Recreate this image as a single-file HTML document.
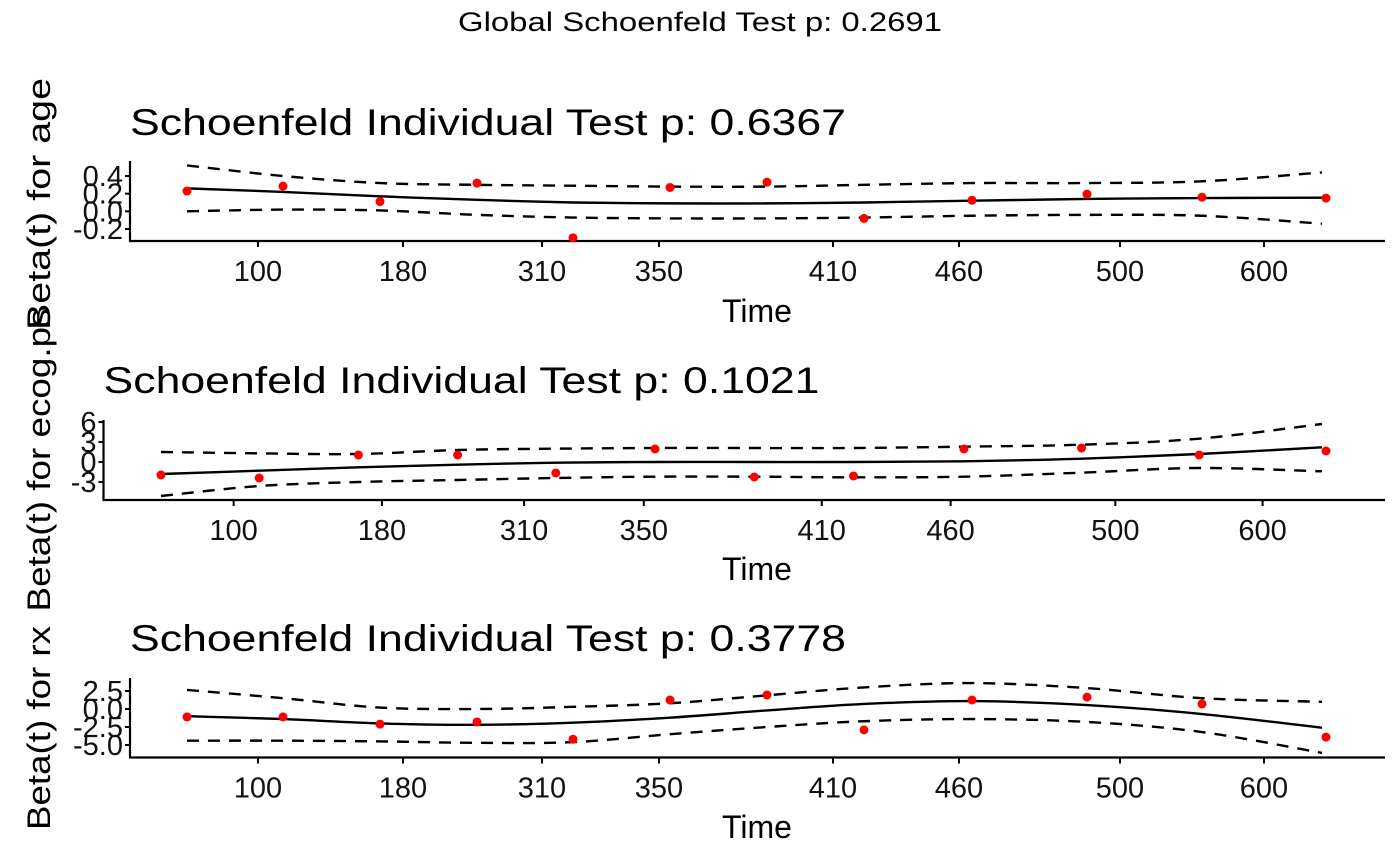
<!DOCTYPE html>
<html><head><meta charset="utf-8"><style>
html,body{margin:0;padding:0;background:#fff;}
svg{display:block;font-family:"Liberation Sans","DejaVu Sans",sans-serif;}
</style></head><body>
<svg id="chart" width="1400" height="866" viewBox="0 0 1400 866" xmlns="http://www.w3.org/2000/svg"></svg>
<script>
// x positions are on the transformed (rank) time scale shared by all panels
const pointRank = [0, 96, 193, 290, 386, 483, 580, 677, 785, 900, 1015, 1139];
const curveRank = [0, 96, 193, 290, 386, 483, 580, 677, 785, 900, 1015, 1135];
const tickRank = [71, 216, 355, 472, 646, 772, 933, 1077];
const tickLabels = ["100", "180", "310", "350", "410", "460", "500", "600"];

const ageResid = [0.23, 0.285, 0.11, 0.32, -0.30, 0.27, 0.33, -0.08, 0.125, 0.195, 0.16, 0.15];
const ageFit = [0.26, 0.22, 0.17, 0.13, 0.10, 0.09, 0.09, 0.10, 0.12, 0.14, 0.15, 0.155];
const ageUpper = [0.52, 0.40, 0.32, 0.30, 0.29, 0.28, 0.28, 0.30, 0.32, 0.32, 0.34, 0.44];
const ageLower = [0.00, 0.02, 0.01, -0.04, -0.07, -0.08, -0.08, -0.07, -0.05, -0.04, -0.05, -0.14];
const ageTicks = [-0.2, 0.0, 0.2, 0.4];
const ageTickLabels = ["-0.2", "0.0", "0.2", "0.4"];

const ecogResid = [-1.95, -2.4, 1.05, 1.05, -1.65, 1.95, -2.25, -2.1, 1.95, 2.1, 1.05, 1.65];
const ecogFit = [-1.8, -1.3, -0.8, -0.4, -0.1, 0.0, 0.0, 0.0, 0.1, 0.5, 1.2, 2.2];
const ecogUpper = [1.5, 1.3, 1.2, 1.8, 2.0, 2.1, 2.1, 2.1, 2.3, 2.6, 3.5, 5.7];
const ecogLower = [-5.1, -3.6, -3.0, -2.7, -2.4, -2.2, -2.2, -2.3, -2.2, -1.6, -0.9, -1.4];
const ecogTicks = [-3, 0, 3, 6];
const ecogTickLabels = ["-3", "0", "3", "6"];

const rxResid = [-1.1, -1.1, -2.1, -1.8, -4.2, 1.25, 1.95, -2.9, 1.25, 1.65, 0.7, -3.9];
const rxFit = [-1.0, -1.4, -2.0, -2.2, -1.9, -1.2, -0.2, 0.7, 1.1, 0.55, -0.7, -2.6];
const rxUpper = [2.65, 1.5, 0.2, 0.0, 0.3, 0.8, 1.9, 3.0, 3.6, 2.9, 1.5, 1.0];
const rxLower = [-4.4, -4.4, -4.5, -4.7, -4.6, -3.5, -2.5, -1.7, -1.4, -1.8, -3.2, -6.1];
const rxTicks = [-5.0, -2.5, 0.0, 2.5];
const rxTickLabels = ["-5.0", "-2.5", "0.0", "2.5"];

const NS = "http://www.w3.org/2000/svg";
const svg = document.getElementById("chart");
function mk(tag, attrs, parent) {
  const e = document.createElementNS(NS, tag);
  for (const k in attrs) e.setAttribute(k, attrs[k]);
  (parent || svg).appendChild(e);
  return e;
}
function smooth(pts) {
  let d = "M" + pts[0][0] + "," + pts[0][1];
  for (let i = 0; i < pts.length - 1; i++) {
    const p0 = pts[Math.max(0, i - 1)], p1 = pts[i], p2 = pts[i + 1], p3 = pts[Math.min(pts.length - 1, i + 2)];
    const c1 = [p1[0] + (p2[0] - p0[0]) / 6, p1[1] + (p2[1] - p0[1]) / 6];
    const c2 = [p2[0] - (p3[0] - p1[0]) / 6, p2[1] - (p3[1] - p1[1]) / 6];
    d += " C" + c1[0] + "," + c1[1] + " " + c2[0] + "," + c2[1] + " " + p2[0] + "," + p2[1];
  }
  return d;
}

const gt = mk("text", {x: 700, y: 31, "text-anchor": "middle", "font-size": 27, textLength: 484, lengthAdjust: "spacingAndGlyphs"});


gt.textContent = "Global Schoenfeld Test p: 0.2691";

const panels = [
  {name: "age", title: "Schoenfeld Individual Test p: 0.6367", axisX: 130, x0: 187, axisY: 241, top: 161,
   yTickPx: [229, 176], ticks: ageTicks, tickLabels: ageTickLabels, resid: ageResid, fit: ageFit, up: ageUpper, lo: ageLower,
   titleY: 135, timeY: 322, ylabel: "Beta(t) for age", ylabelCY: 204, ylabelLen: 252},
  {name: "ecog", title: "Schoenfeld Individual Test p: 0.1021", axisX: 103.5, x0: 161, axisY: 500, top: 420,
   yTickPx: [482, 422], ticks: ecogTicks, tickLabels: ecogTickLabels, resid: ecogResid, fit: ecogFit, up: ecogUpper, lo: ecogLower,
   titleY: 393, timeY: 580, ylabel: "Beta(t) for ecog.ps", ylabelCY: 460, ylabelLen: 303},
  {name: "rx", title: "Schoenfeld Individual Test p: 0.3778", axisX: 130, x0: 187, axisY: 757.5, top: 678,
   yTickPx: [745, 691], ticks: rxTicks, tickLabels: rxTickLabels, resid: rxResid, fit: rxFit, up: rxUpper, lo: rxLower,
   titleY: 651, timeY: 838, ylabel: "Beta(t) for rx", ylabelCY: 728, ylabelLen: 204}
];

panels.forEach(p => {
  const g = mk("g", {});
  
  
  const x1 = 1326;
  const xs = u => p.x0 + u * (x1 - p.x0) / 1139;
  const t0 = p.ticks[0], t1 = p.ticks[p.ticks.length - 1];
  const ys = v => p.yTickPx[0] + (v - t0) * (p.yTickPx[1] - p.yTickPx[0]) / (t1 - t0);

  const title = mk("text", {x: p.axisX, y: p.titleY, "font-size": 37, textLength: 716, lengthAdjust: "spacingAndGlyphs"}, g);
  
  
  title.textContent = p.title;

  const ya = mk("line", {x1: p.axisX, y1: p.top, x2: p.axisX, y2: p.axisY, stroke: "#000", "stroke-width": 2.2}, g);
  
  
  const xa = mk("line", {x1: p.axisX - 1, y1: p.axisY, x2: 1385, y2: p.axisY, stroke: "#000", "stroke-width": 2.2}, g);
  
  

  p.ticks.forEach((v, i) => {
    const y = ys(v);
    const tm = mk("line", {x1: p.axisX - 5, y1: y, x2: p.axisX, y2: y, stroke: "#000", "stroke-width": 2}, g);
    
    
    const tl = mk("text", {x: p.axisX - 7, y: y + 10, "text-anchor": "end", "font-size": 29, fill: "#111"}, g);
    
    
    tl.textContent = p.tickLabels[i];
  });
  tickRank.forEach((u, i) => {
    const x = xs(u);
    const tm = mk("line", {x1: x, y1: p.axisY, x2: x, y2: p.axisY + 6, stroke: "#000", "stroke-width": 2}, g);
    
    
    const tl = mk("text", {x: x, y: p.axisY + 40, "text-anchor": "middle", "font-size": 29, fill: "#111"}, g);
    
    
    tl.textContent = tickLabels[i];
  });

  const xt = mk("text", {x: 757, y: p.timeY, "text-anchor": "middle", "font-size": 32}, g);
  
  
  xt.textContent = "Time";

  const yl = mk("text", {x: 0, y: 0, "text-anchor": "middle", "font-size": 32, textLength: p.ylabelLen, lengthAdjust: "spacingAndGlyphs",
    transform: "translate(50," + p.ylabelCY + ") rotate(-90)"}, g);
  
  
  yl.textContent = p.ylabel;

  const line = (arr, dash, nm) => {
    const pts = curveRank.map((u, i) => [xs(u), ys(arr[i])]);
    const path = mk("path", {d: smooth(pts), fill: "none", stroke: "#000", "stroke-width": 2.4}, g);
    if (dash) path.setAttribute("stroke-dasharray", "12 9");
    
    
  };
  line(p.up, true, 'upper-ci-' + p.name);
  line(p.lo, true, 'lower-ci-' + p.name);
  line(p.fit, false, 'fit-line-' + p.name);

  pointRank.forEach((u, i) => {
    const c = mk("circle", {cx: xs(u), cy: ys(p.resid[i]), r: 4.5, fill: "#ff0000"}, g);
    
    
  });
});
</script>
</body></html>
